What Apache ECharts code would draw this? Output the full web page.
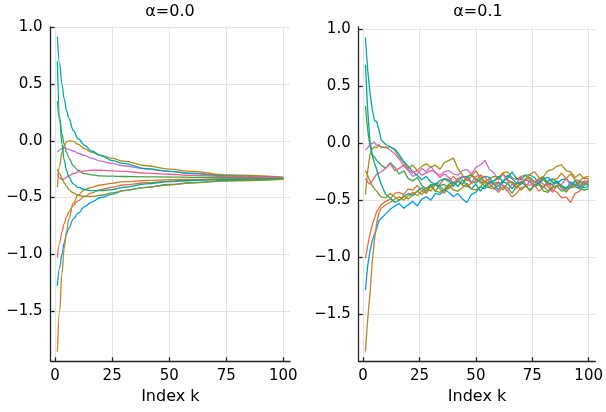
<!DOCTYPE html>
<html>
<head>
<meta charset="utf-8">
<script src="https://cdn.jsdelivr.net/npm/echarts@6/dist/echarts.min.js"></script>
<style>html,body{margin:0;padding:0;background:#fff}#c{width:606px;height:412px}</style>
</head>
<body>
<div id="c"></div>
<script>
// ---------- data ----------
const TITLES = ['α=0.0', 'α=0.1'];
const X_LABEL = 'Index k';
const X_TICKS = [0, 25, 50, 75, 100];
const Y_TICKS = [-1.5, -1.0, -0.5, 0.0, 0.5, 1.0];
const COLORS = ['#009AFA','#E36F47','#3EA44E','#C371D2','#AC8E18','#00AAAE','#ED5E93','#C68225','#00A98D','#8E971D'];

// left panel (alpha = 0.0), sampled index k
const K_L = [1,2,3,4,5,6,8,10,13,16,20,25,30,40,50,60,75,100];
const L1 = [-1.28,-1.12,-1.0,-0.9,-0.82,-0.77,-0.69,-0.64,-0.58,-0.54,-0.50,-0.47,-0.44,-0.41,-0.385,-0.37,-0.35,-0.335];
const L2 = [-1.03,-0.90,-0.80,-0.73,-0.67,-0.63,-0.57,-0.53,-0.49,-0.46,-0.43,-0.41,-0.39,-0.37,-0.355,-0.345,-0.338,-0.333];
const L3 = [0.35,0.18,0.06,-0.03,-0.10,-0.15,-0.22,-0.26,-0.29,-0.30,-0.31,-0.312,-0.315,-0.318,-0.32,-0.322,-0.325,-0.328];
const L4 = [-0.10,-0.08,-0.07,-0.065,-0.07,-0.075,-0.09,-0.11,-0.13,-0.155,-0.18,-0.20,-0.22,-0.25,-0.27,-0.285,-0.305,-0.325];
const L5 = [-0.41,-0.22,-0.10,-0.04,-0.01,0.0,-0.005,-0.03,-0.07,-0.10,-0.13,-0.155,-0.18,-0.22,-0.25,-0.27,-0.30,-0.32];
const L6 = [0.92,0.68,0.50,0.37,0.27,0.20,0.09,0.02,-0.04,-0.09,-0.13,-0.175,-0.20,-0.245,-0.27,-0.29,-0.31,-0.325];
const L7 = [-0.29,-0.33,-0.34,-0.335,-0.32,-0.31,-0.29,-0.275,-0.265,-0.26,-0.26,-0.265,-0.27,-0.285,-0.295,-0.305,-0.315,-0.325];
const L8 = [-1.86,-1.50,-1.17,-0.95,-0.80,-0.69,-0.55,-0.48,-0.43,-0.41,-0.39,-0.375,-0.36,-0.35,-0.343,-0.34,-0.335,-0.332];
const L9 = [0.70,0.22,-0.03,-0.17,-0.26,-0.32,-0.38,-0.41,-0.43,-0.44,-0.44,-0.43,-0.41,-0.38,-0.36,-0.35,-0.34,-0.333];
const L10 = [-0.25,-0.29,-0.33,-0.37,-0.40,-0.43,-0.46,-0.48,-0.49,-0.49,-0.48,-0.46,-0.44,-0.41,-0.39,-0.37,-0.355,-0.34];

// right panel (alpha = 0.1), sampled index k
const K_R = [1,2,3,4,5,6,7,8,
  10,12,14,16,18,20,22,24,26,28,
  30,32,34,36,38,40,42,44,46,48,
  50,52,54,56,58,60,62,64,66,68,
  70,72,74,76,78,80,82,84,86,88,
  90,92,94,96,98,100];
const R1 = [-1.29,-1.08,-0.95,-0.86,-0.80,-0.75,-0.68,-0.66,
  -0.62,-0.58,-0.55,-0.53,-0.57,-0.54,-0.51,-0.55,-0.49,-0.47,
  -0.50,-0.44,-0.45,-0.41,-0.43,-0.47,-0.44,-0.49,-0.52,-0.45,
  -0.43,-0.38,-0.40,-0.33,-0.36,-0.41,-0.34,-0.28,-0.31,-0.35,
  -0.36,-0.32,-0.34,-0.38,-0.36,-0.39,-0.33,-0.31,-0.35,-0.37,
  -0.40,-0.34,-0.36,-0.39,-0.35,-0.37];
const R2 = [-1.01,-0.90,-0.80,-0.72,-0.66,-0.60,-0.57,-0.54,
  -0.51,-0.49,-0.44,-0.43,-0.45,-0.40,-0.41,-0.37,-0.42,-0.44,
  -0.38,-0.35,-0.36,-0.31,-0.34,-0.29,-0.33,-0.36,-0.30,-0.27,
  -0.31,-0.35,-0.33,-0.36,-0.39,-0.43,-0.38,-0.42,-0.47,-0.44,
  -0.39,-0.38,-0.33,-0.37,-0.42,-0.38,-0.35,-0.41,-0.43,-0.48,
  -0.47,-0.52,-0.44,-0.42,-0.37,-0.35];
const R3 = [0.33,0.12,-0.02,-0.10,-0.12,-0.15,-0.17,-0.19,
  -0.22,-0.17,-0.21,-0.27,-0.24,-0.31,-0.33,-0.30,-0.37,-0.40,
  -0.36,-0.42,-0.37,-0.36,-0.40,-0.35,-0.33,-0.36,-0.29,-0.28,
  -0.32,-0.33,-0.38,-0.39,-0.35,-0.34,-0.37,-0.39,-0.44,-0.38,
  -0.36,-0.31,-0.30,-0.34,-0.36,-0.42,-0.43,-0.39,-0.38,-0.42,
  -0.41,-0.39,-0.38,-0.40,-0.41,-0.40];
const R4 = [-0.06,-0.04,-0.01,0.0,0.01,-0.02,-0.01,-0.04,
  -0.03,-0.06,-0.09,-0.14,-0.20,-0.24,-0.29,-0.27,-0.22,-0.25,
  -0.20,-0.26,-0.28,-0.25,-0.24,-0.27,-0.28,-0.24,-0.23,-0.27,
  -0.21,-0.19,-0.15,-0.23,-0.26,-0.32,-0.27,-0.33,-0.35,-0.40,
  -0.34,-0.32,-0.33,-0.38,-0.32,-0.31,-0.35,-0.37,-0.34,-0.40,
  -0.41,-0.37,-0.36,-0.38,-0.33,-0.34];
const R5 = [-0.45,-0.25,-0.10,-0.05,-0.03,-0.04,-0.02,-0.03,
  -0.04,-0.03,-0.06,-0.12,-0.17,-0.22,-0.19,-0.24,-0.20,-0.18,
  -0.21,-0.19,-0.23,-0.17,-0.15,-0.13,-0.22,-0.28,-0.33,-0.29,
  -0.24,-0.31,-0.34,-0.31,-0.29,-0.30,-0.26,-0.25,-0.30,-0.32,
  -0.29,-0.28,-0.32,-0.34,-0.31,-0.29,-0.24,-0.23,-0.20,-0.19,
  -0.24,-0.25,-0.30,-0.27,-0.31,-0.31];
const R6 = [0.93,0.65,0.45,0.30,0.20,0.19,0.12,0.03,
  -0.01,-0.03,-0.05,-0.10,-0.16,-0.20,-0.25,-0.28,-0.32,-0.29,
  -0.34,-0.36,-0.33,-0.31,-0.32,-0.38,-0.33,-0.30,-0.29,-0.34,
  -0.35,-0.31,-0.29,-0.30,-0.36,-0.37,-0.33,-0.31,-0.25,-0.31,
  -0.32,-0.28,-0.28,-0.30,-0.36,-0.31,-0.30,-0.34,-0.35,-0.32,
  -0.31,-0.35,-0.37,-0.34,-0.34,-0.37];
const R7 = [-0.31,-0.34,-0.36,-0.33,-0.30,-0.27,-0.26,-0.25,
  -0.22,-0.18,-0.24,-0.22,-0.19,-0.23,-0.26,-0.24,-0.28,-0.26,
  -0.24,-0.25,-0.30,-0.27,-0.30,-0.35,-0.31,-0.29,-0.31,-0.35,
  -0.29,-0.28,-0.30,-0.34,-0.36,-0.35,-0.37,-0.42,-0.36,-0.35,
  -0.30,-0.36,-0.37,-0.34,-0.33,-0.36,-0.38,-0.43,-0.37,-0.36,
  -0.31,-0.37,-0.33,-0.36,-0.35,-0.32];
const R8 = [-1.83,-1.55,-1.33,-1.05,-0.85,-0.70,-0.61,-0.57,
  -0.54,-0.52,-0.49,-0.47,-0.50,-0.46,-0.43,-0.46,-0.42,-0.39,
  -0.42,-0.36,-0.40,-0.44,-0.38,-0.36,-0.32,-0.37,-0.38,-0.35,
  -0.33,-0.28,-0.34,-0.35,-0.33,-0.31,-0.26,-0.32,-0.34,-0.39,
  -0.34,-0.32,-0.27,-0.25,-0.30,-0.32,-0.37,-0.32,-0.31,-0.26,
  -0.31,-0.27,-0.32,-0.33,-0.30,-0.29];
const R9 = [0.69,0.30,0.02,-0.10,-0.17,-0.23,-0.30,-0.36,
  -0.45,-0.48,-0.52,-0.50,-0.47,-0.44,-0.46,-0.42,-0.39,-0.42,
  -0.37,-0.36,-0.38,-0.42,-0.36,-0.34,-0.38,-0.32,-0.37,-0.40,
  -0.36,-0.42,-0.37,-0.35,-0.33,-0.29,-0.34,-0.35,-0.40,-0.35,
  -0.34,-0.37,-0.41,-0.36,-0.35,-0.30,-0.35,-0.36,-0.33,-0.38,
  -0.39,-0.38,-0.33,-0.38,-0.39,-0.38];
const R10 = [-0.24,-0.28,-0.33,-0.37,-0.40,-0.42,-0.45,-0.47,
  -0.48,-0.44,-0.47,-0.50,-0.46,-0.49,-0.45,-0.42,-0.45,-0.41,
  -0.38,-0.42,-0.43,-0.40,-0.36,-0.41,-0.42,-0.39,-0.35,-0.40,
  -0.41,-0.38,-0.34,-0.39,-0.40,-0.37,-0.41,-0.35,-0.34,-0.36,
  -0.41,-0.37,-0.42,-0.37,-0.36,-0.38,-0.42,-0.38,-0.37,-0.38,
  -0.43,-0.38,-0.37,-0.33,-0.37,-0.33];

const LEFT = [L1,L2,L3,L4,L5,L6,L7,L8,L9,L10];
const RIGHT = [R1,R2,R3,R4,R5,R6,R7,R8,R9,R10];

// ---------- chart ----------
const FONT = 'DejaVu Sans';
const chart = echarts.init(document.getElementById('c'), null, {renderer: 'canvas'});
const fmtY = v => (v < 0 ? '\u2212' : '') + Math.abs(v).toFixed(1);
const axisLineStyle = {color: '#222', width: 1.3};
const gridLine = {show: true, lineStyle: {color: '#e4e4e4', width: 1}};

function xAxis(idx) {
  return {
    type: 'value', gridIndex: idx, min: -1.97, max: 102.97,
    name: X_LABEL, nameLocation: 'middle', nameGap: 28,
    nameTextStyle: {fontFamily: FONT, fontSize: 16, color: '#000'},
    axisLine: {show: true, onZero: false, lineStyle: axisLineStyle},
    axisTick: {show: true, inside: true, length: 4, lineStyle: axisLineStyle, customValues: X_TICKS},
    axisLabel: {fontFamily: FONT, fontSize: 15, color: '#000', margin: 7, customValues: X_TICKS, formatter: v => String(v)},
    splitLine: gridLine
  };
}
function yAxis(idx, mn, mx) {
  return {
    type: 'value', gridIndex: idx, min: mn, max: mx,
    axisLine: {show: true, onZero: false, lineStyle: axisLineStyle},
    axisTick: {show: true, inside: true, length: 4, lineStyle: axisLineStyle, customValues: Y_TICKS},
    axisLabel: {fontFamily: FONT, fontSize: 15, color: '#000', margin: 8, customValues: Y_TICKS, formatter: fmtY},
    splitLine: gridLine
  };
}

const series = [];
LEFT.forEach((arr, i) => series.push({
  type: 'line', xAxisIndex: 0, yAxisIndex: 0, data: K_L.map((k, j) => [k, arr[j]]),
  showSymbol: false, smooth: 0.4, smoothMonotone: 'x', lineStyle: {width: 1.3, color: COLORS[i]}, itemStyle: {color: COLORS[i]},
  animation: false, silent: true
}));
RIGHT.forEach((arr, i) => series.push({
  type: 'line', xAxisIndex: 1, yAxisIndex: 1, data: K_R.map((k, j) => [k, arr[j]]),
  showSymbol: false, lineStyle: {width: 1.3, color: COLORS[i]}, itemStyle: {color: COLORS[i]},
  animation: false, silent: true
}));

chart.setOption({
  animation: false,
  backgroundColor: '#fff',
  title: [
    {text: TITLES[0], left: 170, top: 4, textAlign: 'center', padding: 0, textStyle: {fontFamily: FONT, fontSize: 16, fontWeight: 'normal', color: '#000'}},
    {text: TITLES[1], left: 478, top: 4, textAlign: 'center', padding: 0, textStyle: {fontFamily: FONT, fontSize: 16, fontWeight: 'normal', color: '#000'}}
  ],
  grid: [
    {left: 50.6, top: 27, width: 239.5, height: 334.3},
    {left: 358.7, top: 27, width: 239.1, height: 334.3}
  ],
  xAxis: [xAxis(0), xAxis(1)],
  yAxis: [yAxis(0, -1.944, 1.003), yAxis(1, -1.915, 1.022)],
  series: series
});
</script>
</body>
</html>
